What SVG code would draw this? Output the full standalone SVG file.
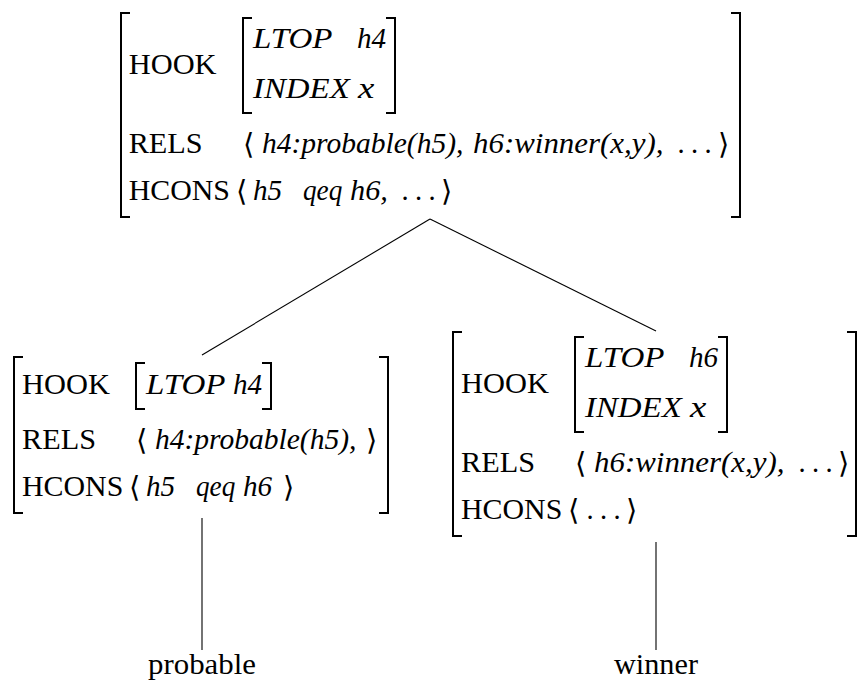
<svg xmlns="http://www.w3.org/2000/svg" width="861" height="681" viewBox="0 0 861 681">
<style>
.t{font-family:'Liberation Serif','DejaVu Serif',serif;font-size:28.5px;fill:#000}
.i{font-style:italic}
.ab{font-family:'DejaVu Serif','DejaVu Sans',serif;font-size:29px;fill:#000}
.d{letter-spacing:6.4px}
.br{fill:none;stroke:#000;stroke-width:2}
.ln{fill:none;stroke:#000;stroke-width:1.1}
</style>
<rect width="861" height="681" fill="#fff"/>
<g id="connectors">
<line class="ln" x1="430" y1="219" x2="202" y2="355"/>
<line class="ln" x1="430" y1="219" x2="656" y2="331"/>
<line class="ln" x1="202" y1="518" x2="202" y2="650"/>
<line class="ln" x1="656" y1="542" x2="656" y2="650"/>
</g>
<g id="node-top">
<path class="br" d="M130,13H121V217H130"/>
<path class="br" d="M731,13H740V217H731"/>
<text class="t" x="128.7" y="74" textLength="87.9" lengthAdjust="spacingAndGlyphs">HOOK</text>
<path class="br" d="M252,18H243V113H252"/>
<path class="br" d="M386,18H395V113H386"/>
<text class="t i" x="253" y="48" textLength="79.5" lengthAdjust="spacingAndGlyphs">LTOP</text>
<text class="t i" x="357" y="48" textLength="29.1" lengthAdjust="spacingAndGlyphs">h4</text>
<text class="t i" x="253" y="98" textLength="96.7" lengthAdjust="spacingAndGlyphs">INDEX</text>
<text class="t i" x="358" y="98" textLength="16.3" lengthAdjust="spacingAndGlyphs">x</text>
<text class="t" x="128.7" y="153" textLength="74" lengthAdjust="spacingAndGlyphs">RELS</text>
<text class="ab" x="243" y="154">⟨</text>
<text class="t i" x="262" y="153" textLength="201.4" lengthAdjust="spacingAndGlyphs">h4:probable(h5),</text>
<text class="t i" x="473" y="153" textLength="190.5" lengthAdjust="spacingAndGlyphs">h6:winner(x,y),</text>
<text class="t d" x="677.4" y="153">...</text>
<text class="ab" x="718" y="154">⟩</text>
<text class="t" x="128.7" y="200" textLength="101.3" lengthAdjust="spacingAndGlyphs">HCONS</text>
<text class="ab" x="236" y="201">⟨</text>
<text class="t i" x="253" y="200" textLength="29.1" lengthAdjust="spacingAndGlyphs">h5</text>
<text class="t i" x="303" y="200" textLength="39.3" lengthAdjust="spacingAndGlyphs">qeq</text>
<text class="t i" x="350" y="200" textLength="37.9" lengthAdjust="spacingAndGlyphs">h6,</text>
<text class="t d" x="401.4" y="200">...</text>
<text class="ab" x="441" y="201">⟩</text>
</g>
<g id="node-probable">
<path class="br" d="M23,357H14V513H23"/>
<path class="br" d="M379,357H388V513H379"/>
<text class="t" x="22" y="394" textLength="87.9" lengthAdjust="spacingAndGlyphs">HOOK</text>
<path class="br" d="M145,363H136V409H145"/>
<path class="br" d="M262,363H271V409H262"/>
<text class="t i" x="146" y="394" textLength="79.5" lengthAdjust="spacingAndGlyphs">LTOP</text>
<text class="t i" x="233" y="394" textLength="29.1" lengthAdjust="spacingAndGlyphs">h4</text>
<text class="t" x="22" y="449" textLength="74" lengthAdjust="spacingAndGlyphs">RELS</text>
<text class="ab" x="136" y="450">⟨</text>
<text class="t i" x="155" y="449" textLength="201.4" lengthAdjust="spacingAndGlyphs">h4:probable(h5),</text>
<text class="ab" x="366" y="450">⟩</text>
<text class="t" x="22" y="496" textLength="101.3" lengthAdjust="spacingAndGlyphs">HCONS</text>
<text class="ab" x="129" y="497">⟨</text>
<text class="t i" x="146" y="496" textLength="29.1" lengthAdjust="spacingAndGlyphs">h5</text>
<text class="t i" x="196" y="496" textLength="39.3" lengthAdjust="spacingAndGlyphs">qeq</text>
<text class="t i" x="243" y="496" textLength="29.1" lengthAdjust="spacingAndGlyphs">h6</text>
<text class="ab" x="283" y="497">⟩</text>
</g>
<g id="node-winner">
<path class="br" d="M462,332H453V536H462"/>
<path class="br" d="M847,332H856V536H847"/>
<text class="t" x="461" y="393" textLength="87.9" lengthAdjust="spacingAndGlyphs">HOOK</text>
<path class="br" d="M584,337H575V432H584"/>
<path class="br" d="M718,337H727V432H718"/>
<text class="t i" x="585" y="367" textLength="79.5" lengthAdjust="spacingAndGlyphs">LTOP</text>
<text class="t i" x="689" y="367" textLength="29.1" lengthAdjust="spacingAndGlyphs">h6</text>
<text class="t i" x="585" y="417" textLength="96.7" lengthAdjust="spacingAndGlyphs">INDEX</text>
<text class="t i" x="690" y="417" textLength="16.3" lengthAdjust="spacingAndGlyphs">x</text>
<text class="t" x="461" y="472" textLength="74" lengthAdjust="spacingAndGlyphs">RELS</text>
<text class="ab" x="575" y="473">⟨</text>
<text class="t i" x="594" y="472" textLength="190.5" lengthAdjust="spacingAndGlyphs">h6:winner(x,y),</text>
<text class="t d" x="798.4" y="472">...</text>
<text class="ab" x="838" y="473">⟩</text>
<text class="t" x="461" y="519" textLength="101.3" lengthAdjust="spacingAndGlyphs">HCONS</text>
<text class="ab" x="568" y="520">⟨</text>
<text class="t d" x="586.4" y="519">...</text>
<text class="ab" x="626" y="520">⟩</text>
</g>
<g id="leaf-probable">
<text class="t" x="202" y="674" text-anchor="middle" textLength="107.8" lengthAdjust="spacingAndGlyphs">probable</text>
</g>
<g id="leaf-winner">
<text class="t" x="656" y="674" text-anchor="middle" textLength="84" lengthAdjust="spacingAndGlyphs">winner</text>
</g>
</svg>
